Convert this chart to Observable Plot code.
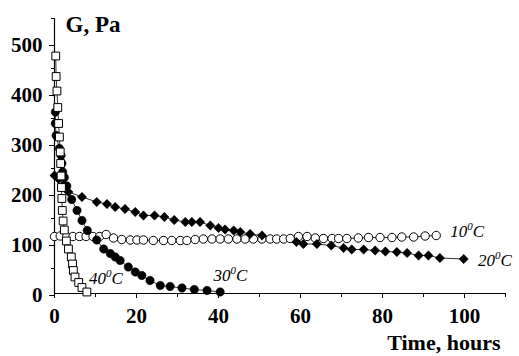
<!DOCTYPE html>
<html>
<head>
<meta charset="utf-8">
<script src="https://cdn.jsdelivr.net/npm/d3@7"></script>
<script src="https://cdn.jsdelivr.net/npm/@observablehq/plot@0.6"></script>
<style>
  html, body { margin: 0; padding: 0; background: #fff; }
  #chart svg { display: block; }
</style>
</head>
<body>
<div id="chart"></div>
<script>
// 40 °C (open squares)
const t40 = [0.3,0.4,0.6,0.8,1.0,1.2,1.4,1.5,1.6,1.7,1.8,1.9,2.1,2.4,2.9,3.4,4.1,4.4,4.6,5.0,5.9,6.7,7.9];
const g40 = [475,434,405,372,340,313,283,260,235,212,190,166,145,127,105,89,73,59,46,33,22,12,3];
// 30 °C (filled circles)
const t30 = [0.2,0.2,0.4,1.2,1.6,1.8,2.0,2.4,3.0,4.2,5.5,6.7,8.0,10.3,12.0,13.6,14.8,16.0,18.0,19.7,21.3,23.3,25.8,28.2,31.1,34.1,37.2,40.4];
const g30 = [363,340,316,290,276,260,243,232,215,188,166,146,126,107,89,80,73,66,53,43,36,26,16,14,11,8,6,3];
// 20 °C (filled diamonds)
const t20 = [0,1.0,2.2,3.4,6.7,10.3,12.8,14.8,17.2,19.7,21.7,24.4,26.8,29.2,31.9,33.5,35.5,38,40,41.6,43.7,45.3,47.7,50.6,59,60.7,64,67.5,70.5,72.5,75.4,78.2,80.7,83.5,86,88.8,91.2,94,99.8];
const g20 = [236,229,216,203,193,183,179,173,169,163,156,156,153,147,143,143,143,136,131,128,126,123,119,116,103,99,99,96,91,88,88,86,84,83,81,76,76,71,69];
// 10 °C (open circles)
const t10 = [0,1.4,3,4.5,6.1,7.7,9.4,11,12.6,14.4,16.4,18.5,20.1,21.7,24.1,26.6,28.6,30.7,32.3,34.3,36.3,38.4,40.4,42.4,44.5,46.5,48.5,50.6,52.6,54.2,55.9,57.5,59.5,61.6,63.6,65.6,67.7,69.3,71.3,74.1,76.6,79.4,82.3,84.7,87.6,90.4,93.1];
const g10 = [114,115,114,114,114,114,114,114,118,111,108,107,107,107,106,106,106,106,106,108,109,109,109,109,109,109,109,109,109,109,109,110,114,114,111,110,110,110,110,111,112,112,112,113,113,115,116];

// Axis ticks
const xTicks = [0,20,40,60,80,100];
const xMinor = [10,30,50,70,90,110];
const yTicks = [0,100,200,300,400,500];
const yMinor = [50,150,250,350,450,550];

// Series labels (superscript 0 = degree)
const labelText = ["10\u2070C","20\u2070C","30\u2070C","40\u2070C"];
const labelT = [96.5,103.3,38.8,8.4];
const labelG = [114,56,26,19];

const zip = (t, g) => t.map((v, i) => ({t: v, g: g[i]}));
const d40 = zip(t40, g40), d30 = zip(t30, g30), d20 = zip(t20, g20), d10 = zip(t10, g10);
const labels = labelText.map((s, i) => ({s, t: labelT[i], g: labelG[i]}));

const serif = "Liberation Serif";

const chart = Plot.plot({
  width: 519,
  height: 356,
  marginLeft: 54,
  marginRight: 14,
  marginTop: 18,
  marginBottom: 63,
  style: {fontFamily: serif, background: "#fff", color: "#000"},
  x: {domain: [0, 110], axis: null},
  y: {domain: [0, 550], axis: null},
  marks: [
    Plot.axisY({ticks: yTicks, tickSize: 5, tickPadding: 7, dy: 2, label: null, tickFormat: d => d, fontSize: 21, fontWeight: "bold", fontFamily: serif}),
    Plot.axisY({ticks: yMinor, tickSize: 3, text: null, label: null}),
    Plot.axisX({ticks: xTicks, tickSize: 5, tickPadding: 10, label: null, tickFormat: d => d, fontSize: 21, fontWeight: "bold", fontFamily: serif}),
    Plot.axisX({ticks: xMinor, tickSize: 4, text: null, label: null}),
    Plot.ruleX([0], {stroke: "#000", strokeWidth: 1.2}),
    Plot.ruleY([0], {stroke: "#000", strokeWidth: 1.2}),
    Plot.line(d40, {x: "t", y: "g", stroke: "#000", strokeWidth: 0.8}),
    Plot.line(d30, {x: "t", y: "g", stroke: "#000", strokeWidth: 0.8}),
    Plot.line(d20, {x: "t", y: "g", stroke: "#000", strokeWidth: 0.8}),
    Plot.line(d10, {x: "t", y: "g", stroke: "#000", strokeWidth: 0.8}),
    Plot.dot(d10, {x: "t", y: "g", r: 4.2, fill: "#fff", stroke: "#000", strokeWidth: 1}),
    Plot.dot(d20, {x: "t", y: "g", r: 4.2, symbol: "diamond2", fill: "#000", stroke: "#000", strokeWidth: 0.5}),
    Plot.dot(d30, {x: "t", y: "g", r: 4.2, fill: "#000", stroke: "#000", strokeWidth: 0.5}),
    Plot.dot(d40, {x: "t", y: "g", r: 4.4, symbol: "square", fill: "#fff", stroke: "#000", strokeWidth: 1}),
    Plot.text(labels, {x: "t", y: "g", text: "s", textAnchor: "start", lineAnchor: "bottom", fontStyle: "italic", fontWeight: "normal", fontSize: 17, fontFamily: serif, fill: "#000"}),
    Plot.text(["G, Pa"], {frameAnchor: "top-left", dx: 11, dy: -2.5, text: d => d, textAnchor: "start", lineAnchor: "top", fontSize: 23, fontWeight: "bold", fontFamily: serif, fill: "#000"}),
    Plot.text(["Time, hours"], {frameAnchor: "bottom-right", dx: -5, dy: 56, text: d => d, textAnchor: "end", lineAnchor: "bottom", fontSize: 22, fontWeight: "bold", fontFamily: serif, fill: "#000", style: {letterSpacing: "0.3px"}})
  ]
});

// Render the superscript "0" of the temperature labels as a raised tspan
chart.querySelectorAll("text").forEach(el => {
  const s = el.textContent;
  if (!s.includes("\u2070")) return;
  const [a, b] = s.split("\u2070");
  el.textContent = "";
  const ns = "http://www.w3.org/2000/svg";
  const t1 = document.createElementNS(ns, "tspan"); t1.textContent = a;
  const t2 = document.createElementNS(ns, "tspan"); t2.textContent = "0";
  t2.setAttribute("font-size", "11"); t2.setAttribute("dy", "-7");
  const t3 = document.createElementNS(ns, "tspan"); t3.textContent = b;
  t3.setAttribute("dy", "7");
  el.append(t1, t2, t3);
});
document.getElementById("chart").appendChild(chart);
</script>
</body>
</html>
